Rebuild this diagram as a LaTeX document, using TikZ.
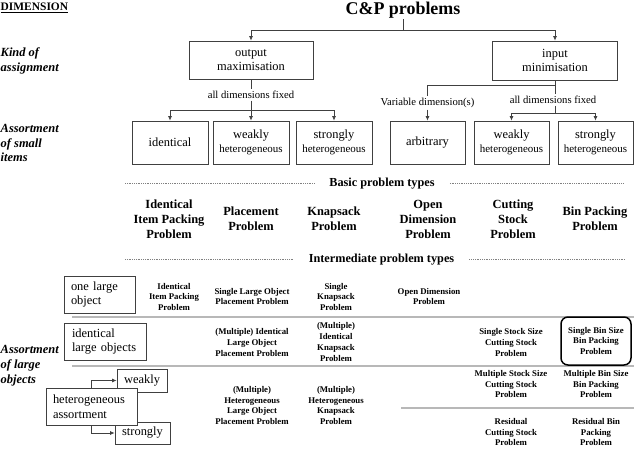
\documentclass[tikz,border=0pt]{standalone}
\usepackage{fontspec}
\setmainfont{Liberation Serif}
\usetikzlibrary{arrows.meta}
\definecolor{ln}{HTML}{404040}
\definecolor{sepc}{HTML}{B8B8B8}
\definecolor{dotc}{HTML}{808080}
\tikzset{
 box/.style={draw=ln, line width=0.8bp, fill=white, inner sep=0pt, align=center, font=\fontsize{12.5}{14.5}\selectfont},
 lbox/.style={draw=ln, line width=0.8bp, fill=white, inner xsep=7bp, inner ysep=0pt, align=left, font=\fontsize{12.5}{15}\selectfont},
 lab/.style={inner sep=1.5bp, font=\fontsize{10.7}{12}\selectfont},
 arr/.style={draw=ln, line width=0.7bp, -{Latex[length=4.5bp,width=4bp]}},
 con/.style={draw=ln, line width=0.7bp},
 basic/.style={align=center, inner sep=0pt, font=\bfseries\fontsize{12.5}{15}\selectfont},
 inter/.style={align=center, inner sep=0pt, font=\bfseries\fontsize{8.8}{10.8}\selectfont},
 dim/.style={anchor=west, align=left, inner sep=0pt, font=\bfseries\itshape\fontsize{12.5}{15}\selectfont},
 dotl/.style={draw=dotc, line width=0.6bp, dash pattern=on 0.6bp off 1.2bp},
 sepl/.style={draw=sepc, line width=1.5bp},
 head/.style={font=\bfseries\fontsize{12.3}{14}\selectfont, inner ysep=0pt, inner xsep=15bp},
 het/.style={font=\fontsize{11}{12}\selectfont}
}
\begin{document}
\begin{tikzpicture}[x=1bp,y=-1bp]
\useasboundingbox (0,0) rectangle (636,450);
% headings
\node[font=\bfseries\fontsize{11.5}{13}\selectfont, inner sep=0pt, anchor=west] (dimh) at (0.5,8) {\underline{DIMENSION}};
\node[font=\bfseries\fontsize{18}{20}\selectfont, inner sep=0pt, anchor=base] (cp) at (403,15) {C\&P problems};
\node[dim] (k1) at (0.5,60.5) {Kind of\\assignment};
\node[dim] (k2) at (0.5,143) {Assortment\\of small\\items};
\node[dim] (k3) at (0.5,365.5) {Assortment\\of large\\objects};
% kind of assignment
\node[box, minimum width=124bp, minimum height=38bp] (out) at (251,60) {output\\maximisation};
\node[box, minimum width=125bp, minimum height=39bp] (inp) at (555,60.5) {input\\minimisation};
\coordinate (j1) at (403,30);
\draw[con] (cp.south) -- (j1);
\draw[arr] (j1) -| (out.north);
\draw[arr] (j1) -| (inp.north);
% small items
\node[box, minimum width=76bp, minimum height=43bp] (s1) at (170,142.5) {identical};
\node[box, minimum width=76bp, minimum height=43bp] (s2) at (251,142.5) {weakly\\[-1bp]{\fontsize{11}{12}\selectfont heterogeneous}};
\node[box, minimum width=76bp, minimum height=43bp] (s3) at (334,142.5) {strongly\\[-1bp]{\fontsize{11}{12}\selectfont heterogeneous}};
\node[box, minimum width=75bp, minimum height=43bp] (s4) at (427.5,142.5) {arbitrary};
\node[box, minimum width=75bp, minimum height=43bp] (s5) at (511.5,142.5) {weakly\\[-1bp]{\fontsize{11}{12}\selectfont heterogeneous}};
\node[box, minimum width=75bp, minimum height=43bp] (s6) at (595.5,142.5) {strongly\\[-1bp]{\fontsize{11}{12}\selectfont heterogeneous}};
% output branch
\node[lab] (l1) at (251,95) {all dimensions fixed};
\coordinate (j2) at (251,110);
\draw[con] (out.south) -- (l1.north);
\draw[con] (l1.south) -- (j2);
\draw[arr] (j2) -| (s1.north);
\draw[arr] (j2) -- (s2.north);
\draw[arr] (j2) -| (s3.north);
% input branch
\node[lab] (l2) at (427.5,103) {Variable dimension(s)};
\node[lab] (l3) at (553,100) {all dimensions fixed};
\coordinate (j3) at (555,85);
\coordinate (j4) at (555,113);
\draw[con] (inp.south) -- (inp.south |- l3.north);
\draw[con] (j3) -| (l2.north);
\draw[arr] (l2.south) -- (s4.north);
\draw[con] (inp.south |- l3.south) -- (j4);
\draw[arr] (j4) -| (s5.north);
\draw[arr] (j4) -| (s6.north);
% basic problem types
\node[head] (bpt) at (382,184) {Basic problem types};
\coordinate (d1) at (125,183);
\coordinate (d2) at (624,183);
\draw[dotl] (d1) -- (d1 -| bpt.west);
\draw[dotl] (bpt.east |- d2) -- (d2);
\node[basic] (b1) at (169,219) {Identical\\Item Packing\\Problem};
\node[basic] (b2) at (251,219) {Placement\\Problem};
\node[basic] (b3) at (334,219) {Knapsack\\Problem};
\node[basic] (b4) at (428,219) {Open\\Dimension\\Problem};
\node[basic] (b5) at (513,219) {Cutting\\Stock\\Problem};
\node[basic] (b6) at (595,219) {Bin Packing\\Problem};
% intermediate problem types
\node[head] (ipt) at (381.5,260) {Intermediate problem types};
\coordinate (d3) at (125,259);
\coordinate (d4) at (626,259);
\draw[dotl] (d3) -- (d3 -| ipt.west);
\draw[dotl] (ipt.east |- d4) -- (d4);
% separators
\coordinate (sa1) at (72,317); \coordinate (sa2) at (634,317);
\coordinate (sb1) at (72,366); \coordinate (sb2) at (634,366);
\coordinate (sc1) at (401,408); \coordinate (sc2) at (634,408);
\draw[sepl] (sa1) -- (sa2);
\draw[sepl] (sb1) -- (sb2);
\draw[sepl] (sc1) -- (sc2);
% large objects
\node[lbox, text width=57bp, minimum height=37bp] (one) at (99.5,294.5) {one large\\object};
\node[lbox, inner xsep=8bp, text width=66bp, minimum height=37bp] (idl) at (105,341.5) {identical\\large objects};
\node[box, minimum width=50bp, minimum height=23bp] (wk) at (142,380.5) {weakly};
\node[box, minimum width=55bp, minimum height=22bp] (st) at (142.5,433) {strongly};
\node[lbox, text width=77bp, minimum height=37bp] (het) at (91.5,406.5) {heterogeneous\\assortment};
\draw[arr] (het.north) |- (wk.west);
\draw[arr] (het.south) |- (st.west);
% intermediate items
\node[inter] (i1) at (174,297) {Identical\\Item Packing\\Problem};
\node[inter] (i2) at (252,296.5) {Single Large Object\\Placement Problem};
\node[inter] (i3) at (336,297) {Single\\Knapsack\\Problem};
\node[inter] (i4) at (429,296.5) {Open Dimension\\Problem};
\node[inter] (i5) at (252,342.5) {(Multiple) Identical\\Large Object\\Placement Problem};
\node[inter] (i6) at (336,342) {(Multiple)\\Identical\\Knapsack\\Problem};
\node[inter] (i7) at (511,342.5) {Single Stock Size\\Cutting Stock\\Problem};
\node[inter, draw=black, line width=1.5bp, rounded corners=7bp, minimum width=70bp, minimum height=48bp] (i8) at (596,341) {Single Bin Size\\Bin Packing\\Problem};
\node[inter] (i9) at (252,405.5) {(Multiple)\\Heterogeneous\\Large Object\\Placement Problem};
\node[inter] (i10) at (336,405.5) {(Multiple)\\Heterogeneous\\Knapsack\\Problem};
\node[inter] (i11) at (511,384) {Multiple Stock Size\\Cutting Stock\\Problem};
\node[inter] (i12) at (596,384) {Multiple Bin Size\\Bin Packing\\Problem};
\node[inter] (i13) at (511,432) {Residual\\Cutting Stock\\Problem};
\node[inter] (i14) at (596,432) {Residual Bin\\Packing\\Problem};
\end{tikzpicture}
\end{document}
